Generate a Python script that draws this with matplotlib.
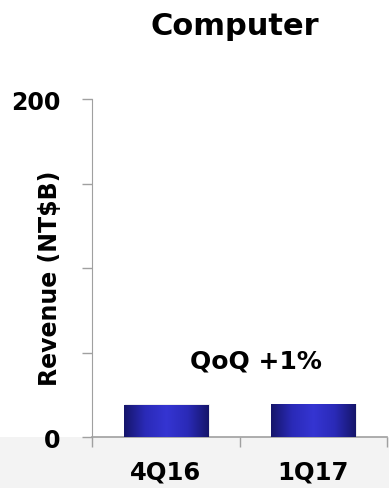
import numpy as np
import matplotlib
matplotlib.use("Agg")
import matplotlib.pyplot as plt
from matplotlib.colors import LinearSegmentedColormap
from matplotlib.patches import Rectangle

# Data
quarters = ["4Q16", "1Q17"]
revenue = [18.9, 19.1]
y_ticks = [0, 50, 100, 150, 200]
y_tick_labels = ["0", "", "", "", "200"]
title = "Computer"
ylabel = "Revenue (NT$B)"
note = "QoQ +1%"

plt.rcParams["font.family"] = ["DejaVu Sans"]
plt.rcParams["font.weight"] = "bold"

fig = plt.figure(figsize=(3.89, 4.89), dpi=100)
fig.patch.set_facecolor("white")

# light grey band under the category axis
fig.add_artist(Rectangle((0, 0), 1, 0.104, transform=fig.transFigure,
                         facecolor="#f3f3f3", edgecolor="none", zorder=0))

ax = fig.add_axes([0.2365, 0.104, 0.7585, 0.6915])
ax.set_facecolor("none")

x = np.arange(len(quarters))
bars = ax.bar(x, revenue, width=0.57, color="none", edgecolor="none", zorder=3)

# horizontal gradient fill: dark navy edges, bright blue centre
cmap = LinearSegmentedColormap.from_list(
    "bar_grad", ["#15156a", "#2a2ab8", "#3535d2", "#2a2ab8", "#15156a"])
grad = np.linspace(0, 1, 256).reshape(1, -1)
for b in bars:
    x0, w, h = b.get_x(), b.get_width(), b.get_height()
    # soft shadow
    ax.add_patch(Rectangle((x0 + 0.012, 0), w, h + 0.6, facecolor="#000000",
                           alpha=0.07, edgecolor="none", zorder=2))
    ax.imshow(grad, cmap=cmap, aspect="auto", extent=[x0, x0 + w, 0, h],
              zorder=3, interpolation="bicubic")

ax.set_xlim(-0.5, len(quarters) - 0.5)
ax.set_ylim(0, 200)

ax.set_yticks(y_ticks)
ax.set_yticklabels(y_tick_labels, fontsize=17, fontweight="bold")
ax.set_xticks(np.arange(len(quarters) + 1) - 0.5)
ax.set_xticklabels([])
ax.set_xticks(x, minor=True)
ax.set_xticklabels(quarters, minor=True, fontsize=17.5, fontweight="bold")
ax.tick_params(axis="x", which="minor", length=0, pad=16)
ax.tick_params(axis="x", which="major", length=7, direction="out",
               color="#a0a0a0", width=1)
ax.tick_params(axis="y", length=7, direction="out", color="#a0a0a0",
               width=1, pad=16)

for side in ("top", "right"):
    ax.spines[side].set_visible(False)
ax.spines["left"].set_color("#a0a0a0")
ax.spines["bottom"].set_color("#a0a0a0")
ax.spines["bottom"].set_linewidth(1.2)
ax.set_xlim(-0.5, len(quarters) - 0.5)

ax.set_ylabel(ylabel, fontsize=17, fontweight="bold")
ax.yaxis.set_label_coords(-0.10, 0.473)

ax.text(0.612, 41.4, note, ha="center", va="baseline", fontsize=18,
        fontweight="bold")

fig.text(0.603, 0.928, title, ha="center", va="baseline", fontsize=22,
         fontweight="bold")

fig.savefig("out.png", dpi=100)
